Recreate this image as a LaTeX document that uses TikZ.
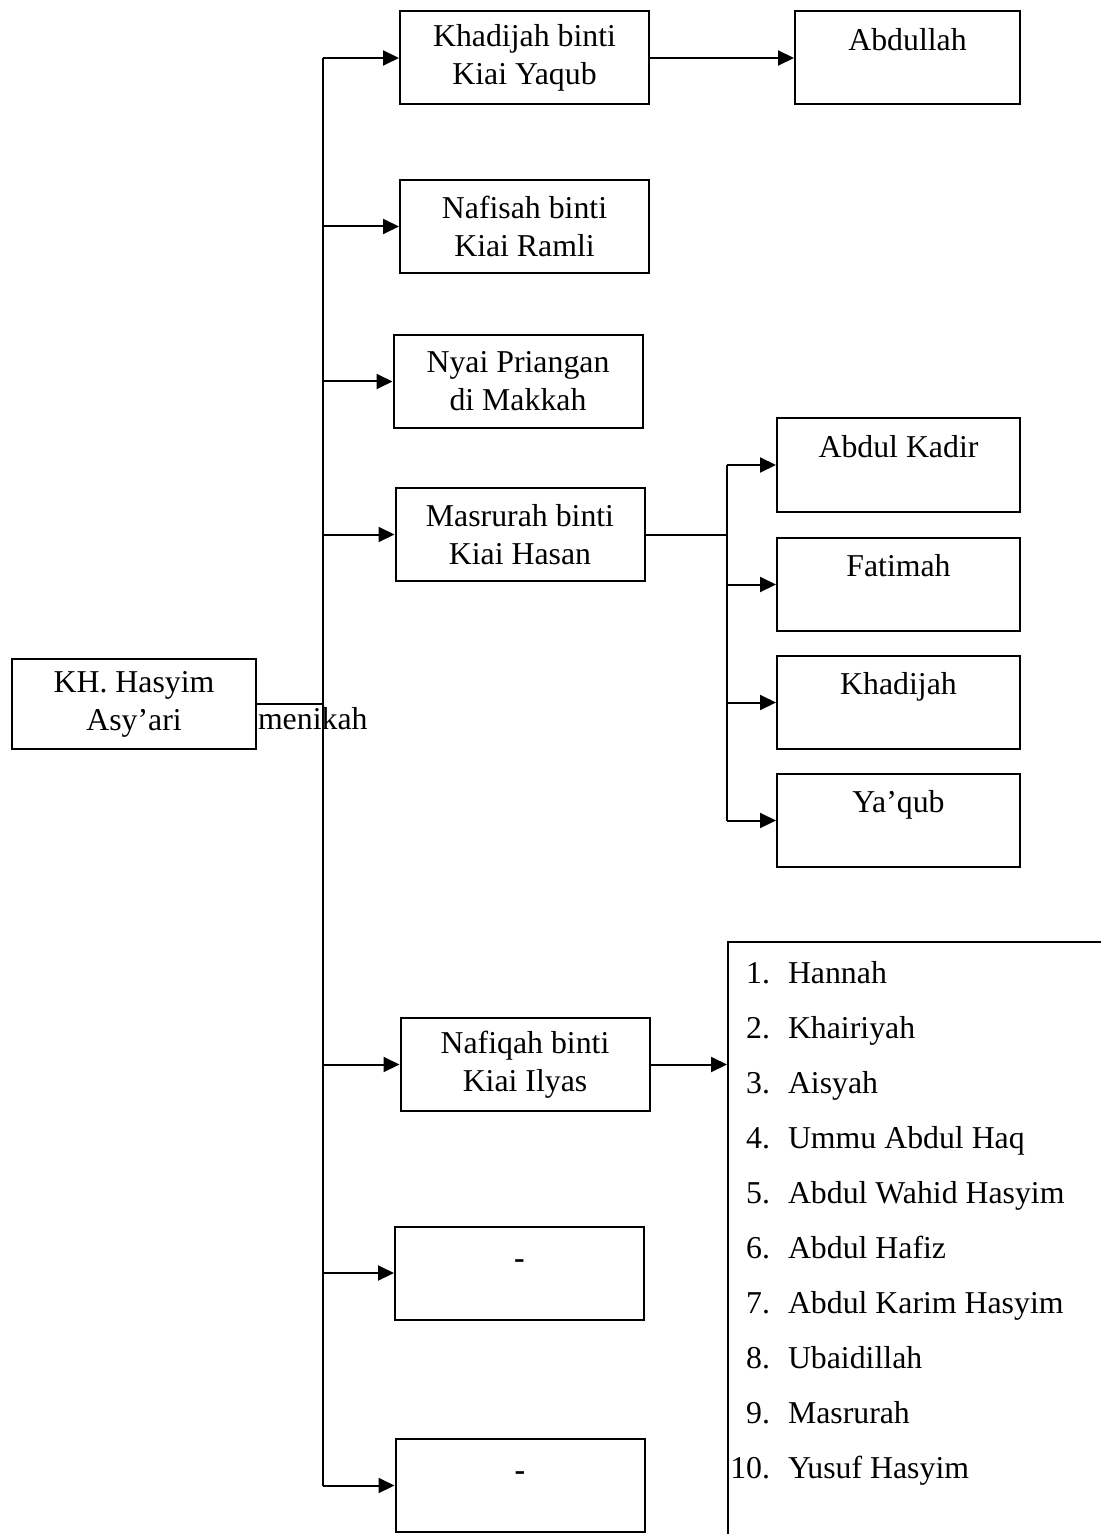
\documentclass[tikz,border=0pt]{standalone}
\usepackage{fontspec}
\setmainfont{Liberation Serif}
\usetikzlibrary{arrows.meta}

\tikzset{every picture/.style={line width=1pt}}
\tikzset{
	wifebox/.style={draw, minimum width=124.5pt, minimum height=46.5pt, inner sep=0pt, align=center},
	kidbox/.style={draw, minimum width=121.5pt, minimum height=46.5pt, inner sep=0pt, align=center},
	arr/.style={-{Triangle[length=8pt,width=7.5pt]}}}

\begin{document}
\begin{tikzpicture}[x=0.5pt,y=0.5pt,yscale=-1,xscale=1,font=\fontsize{15.9}{19}\selectfont]
	\useasboundingbox (0,0) rectangle (1101,1534);

	% root
	\node [draw, minimum width=122pt, minimum height=45pt, inner sep=0pt, align=center] (root) at (134,704) {KH. Hasyim\\Asy’ari};
	\node [anchor=west, inner sep=0pt] (menikah) at (257,719) {menikah};

	% wives
	\node [wifebox] (w1) at (524.5,58) {Khadijah binti\\Kiai Yaqub};
	\node [wifebox] (w2) at (524.5,226.5) {Nafisah binti\\Kiai Ramli};
	\node [wifebox] (w3) at (518,381.5) {Nyai Priangan\\di Makkah};
	\node [wifebox] (w4) at (520,534.5) {Masrurah binti\\Kiai Hasan};
	\node [wifebox] (w5) at (525,1064.5) {Nafiqah binti\\Kiai Ilyas};
	\node [wifebox] (w6) at (519.5,1273) {\textbf{-}\\[-10pt]~};
	\node [wifebox] (w7) at (520,1485.5) {\textbf{-}\\[-10pt]~};

	% children
	\node [kidbox, minimum width=112.5pt] (abd) at (907.5,58) {Abdullah\\~};
	\node [kidbox] (k1) at (898.5,465) {Abdul Kadir\\~};
	\node [kidbox] (k2) at (898.5,584.5) {Fatimah\\~};
	\node [kidbox] (k3) at (898.5,702.5) {Khadijah\\~};
	\node [kidbox] (k4) at (898.5,820.5) {Ya’qub\\~};

	% list of children (box runs off the page)
	\node [draw, minimum width=211pt, minimum height=319pt, inner sep=0pt] (list) at (939,1261) {};
	\foreach \i/\name in {1/Hannah,2/Khairiyah,3/Aisyah,4/Ummu Abdul Haq,5/Abdul Wahid Hasyim,6/Abdul Hafiz,7/Abdul Karim Hasyim,8/Ubaidillah,9/Masrurah,10/Yusuf Hasyim}{
		\node [anchor=base east, inner sep=0pt] (n\i) at (771,{983.5+55*(\i-1)}) {\i.};
		\node [anchor=base west, inner sep=0pt] (it\i) at (787,{983.5+55*(\i-1)}) {\name};
	}

	% trunk lines
	\coordinate (trunk) at (323,0);
	\coordinate (sub) at (727,0);
	\draw (root.east) -- (root.east -| trunk);
	\draw (trunk |- w1.west) -- (trunk |- w7.west);
	\foreach \w in {w1,w2,w3,w4,w5,w6,w7}
		\draw [arr] (trunk |- \w.west) -- (\w.west);

	\draw [arr] (w1.east) -- (abd.west);
	\draw (w4.east) -- (w4.east -| sub);
	\draw (sub |- k1.west) -- (sub |- k4.west);
	\foreach \k in {k1,k2,k3,k4}
		\draw [arr] (sub |- \k.west) -- (\k.west);

	\draw [arr] (w5.east) -- (w5.east -| list.west);

\end{tikzpicture}
\end{document}
